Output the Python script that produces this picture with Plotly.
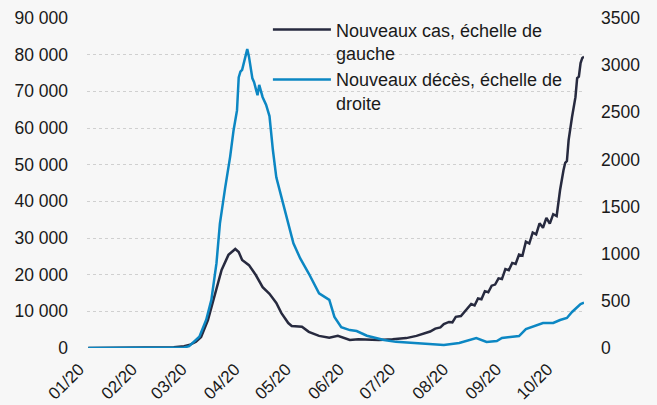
import pandas as pd
import plotly.graph_objects as go

# Days since 2020-01-01 and values
case_day = [0, 35, 50, 56, 59, 63, 66, 70, 75, 78, 82, 86, 88, 90, 94, 98, 102, 106, 110, 113,
            117, 119, 125, 129, 135, 141, 146, 153, 158, 164, 170, 178, 186, 192, 198, 200, 203,
            206, 208, 211, 213, 215, 218, 220, 222, 224, 226, 228, 230, 232, 234, 236, 238, 240,
            242, 244, 246, 248, 250, 252, 254, 256, 258, 260, 262, 264, 266, 268, 270, 272, 274,
            276, 278, 279, 280, 281, 283, 285, 286, 287, 288, 289, 290]
case_val = [0, 50, 200, 500, 800, 1700, 3000, 7600, 15800, 21300, 25400, 27000, 26200, 24000,
            22600, 19900, 16600, 14800, 12300, 9500, 6800, 6000, 5800, 4400, 3300, 2800, 3300,
            2200, 2400, 2300, 2200, 2400, 2700, 3300, 4100, 4500, 5300, 5600, 6500, 7100, 7000,
            8500, 8700, 9800, 10600, 12000, 11600, 13500, 13300, 15500, 15200, 17000, 17300,
            19000, 18800, 21500, 21200, 23200, 22900, 25500, 25200, 29000, 28500, 31500, 31000,
            34000, 32800, 35500, 33900, 36500, 36000, 43100, 48500, 50500, 51000, 56700, 63000,
            68400, 73600, 74000, 77700, 79100, 79400]

death_day = [0, 50, 56, 59, 65, 69, 72, 75, 77, 80, 83, 85, 87, 88, 89, 90, 92, 93, 94, 96, 97,
             99, 100, 102, 104, 106, 108, 110, 113, 117, 120, 124, 129, 135, 141, 144, 148, 153,
             157, 163, 173, 180, 190, 198, 208, 217, 223, 227, 233, 239, 242, 248, 252, 256, 260,
             266, 272, 276, 280, 283, 288, 290]
death_val = [0, 2, 5, 20, 120, 300, 510, 900, 1320, 1690, 2030, 2310, 2520, 2870, 2930, 2950,
             3080, 3170, 3090, 2860, 2820, 2680, 2790, 2660, 2580, 2460, 2100, 1810, 1600, 1320,
             1110, 950, 790, 580, 510, 330, 220, 190, 180, 130, 85, 65, 53, 42, 32, 53, 85, 106,
             64, 74, 106, 117, 127, 200, 223, 265, 265, 297, 318, 382, 466, 480]

series_names = ["Nouveaux cas, échelle de<br>gauche", "Nouveaux décès, échelle de<br>droite"]

start = pd.Timestamp("2020-01-01")
case_dates = [start + pd.Timedelta(days=d) for d in case_day]
death_dates = [start + pd.Timedelta(days=d) for d in death_day]

FONT = "Arial, Liberation Sans, sans-serif"
BG = "#f7f7f7"

fig = go.Figure()
fig.add_trace(go.Scatter(x=case_dates, y=case_val, name=series_names[0], mode="lines",
                         line=dict(color="#272a3f", width=2.5), yaxis="y"))
fig.add_trace(go.Scatter(x=death_dates, y=death_val, name=series_names[1], mode="lines",
                         line=dict(color="#0c87c3", width=2.5), yaxis="y2"))

fig.update_layout(
    width=657, height=405,
    margin=dict(l=87, r=73, t=18, b=57, autoexpand=False),
    paper_bgcolor=BG, plot_bgcolor=BG,
    separators=", ",
    font=dict(family=FONT, size=17.5, color="#1a1a1a"),
    showlegend=True,
    legend=dict(x=0.364, y=1.02, xanchor="left", yanchor="top", valign="top",
                bgcolor="rgba(0,0,0,0)", font=dict(size=18, color="#1a1a1a"),
                tracegroupgap=0, itemwidth=58),
    xaxis=dict(type="date", range=["2019-12-31 06:00", "2020-10-17"], automargin=False,
               tick0="2020-01-01", dtick="M1", tickformat="%m/%y", tickangle=-45,
               ticklabelshift=-9, ticklabelstandoff=7, tickfont=dict(size=17),
               showgrid=False, zeroline=False, showline=False, ticks=""),
    yaxis=dict(range=[0, 90000], dtick=10000, tickformat=",d", showgrid=True, automargin=False,
               gridcolor="#d0d0d0", griddash="dot", gridwidth=1, zeroline=False,
               showline=False, ticks="", ticklabelstandoff=18),
    yaxis2=dict(range=[0, 3500], dtick=500, tickformat="d", overlaying="y", side="right",
                automargin=False, showgrid=False, zeroline=False, showline=False, ticks="",
                ticklabelstandoff=16),
)

fig.write_html(
    "out.html",
    config={"displayModeBar": False},
    post_script="document.body.style.margin='0';document.body.style.background='#f7f7f7';",
)
